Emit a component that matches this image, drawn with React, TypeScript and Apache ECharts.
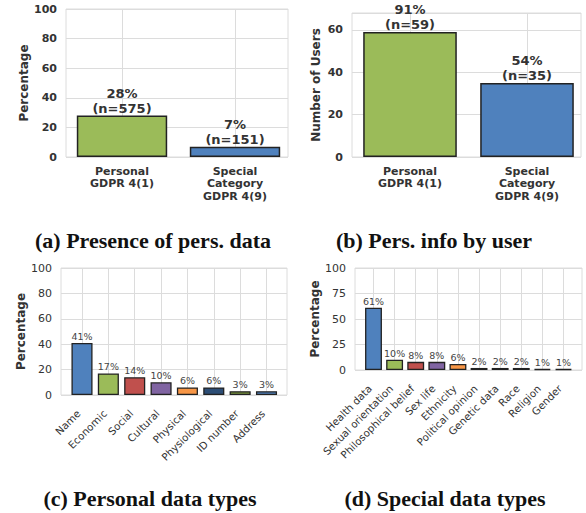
import React, { useEffect, useRef } from "react";
import * as echarts from "echarts";

const catsA = ["Personal\nGDPR 4(1)", "Special\nCategory\nGDPR 4(9)"];
const pctA = [28, 7];
const countA = [575, 151];

const catsB = ["Personal\nGDPR 4(1)", "Special\nCategory\nGDPR 4(9)"];
const usersB = [59, 35];
const pctB = [91, 54];

const catsC = ["Name", "Economic", "Social", "Cultural", "Physical", "Physiological", "ID number", "Address"];
const valsC = [41, 17, 14, 10, 6, 6, 3, 3];

const catsD = [
  "Health data",
  "Sexual orientation",
  "Philosophical belief",
  "Sex life",
  "Ethnicity",
  "Political opinion",
  "Genetic data",
  "Race",
  "Religion",
  "Gender",
];
const valsD = [61, 10, 8, 8, 6, 2, 2, 2, 1, 1];

const colorsAB = ["#9BBB59", "#4F81BD"];
const colorsC = ["#4F81BD", "#9BBB59", "#C0504D", "#8064A2", "#F79646", "#2C4D75", "#77933C", "#4F81BD"];
const colorsD = ["#4F81BD", "#9BBB59", "#C0504D", "#8064A2", "#F79646", "#2C4D75", "#77933C", "#4F81BD", "#772C2A", "#5F497A"];

const captions = [
  { text: "(a) Presence of pers. data", x: 153, y: 240 },
  { text: "(b) Pers. info by user", x: 434, y: 240 },
  { text: "(c) Personal data types", x: 150, y: 498 },
  { text: "(d) Special data types", x: 445, y: 498 },
];

const FONT = "DejaVu Sans";
const GRID_C = "#dcdcdc";
const TEXT_C = "#333";

type Panel = {
  outer: { left: number; top: number; width: number; height: number };
  inner: { left: number; width: number };
  cats: string[];
  vals: number[];
  colors: string[];
  yMax: number;
  yInt: number;
  yName: string;
  nameGap: number;
  bold: boolean;
  labelFmt: (i: number) => string;
  rotate: number;
};

export default function App() {
  const ref = useRef<HTMLDivElement>(null);
  useEffect(() => {
    if (!ref.current) return;
    const chart = echarts.init(ref.current, null, { renderer: "svg" });

    const panels: Panel[] = [
      {
        outer: { left: 66, top: 9, width: 222, height: 148 },
        inner: { left: 122, width: 113 },
        cats: catsA,
        vals: pctA,
        colors: colorsAB,
        yMax: 100,
        yInt: 20,
        yName: "Percentage",
        nameGap: 36,
        bold: true,
        labelFmt: (i) => `${pctA[i]}%\n(n=${countA[i]})`,
        rotate: 0,
      },
      {
        outer: { left: 352, top: 13, width: 229, height: 144 },
        inner: { left: 410, width: 117 },
        cats: catsB,
        vals: usersB,
        colors: colorsAB,
        yMax: 68,
        yInt: 20,
        yName: "Number of Users",
        nameGap: 30,
        bold: true,
        labelFmt: (i) => `${pctB[i]}%\n(n=${usersB[i]})`,
        rotate: 0,
      },
      {
        outer: { left: 61, top: 268, width: 226, height: 127 },
        inner: { left: 82, width: 184.5 },
        cats: catsC,
        vals: valsC,
        colors: colorsC,
        yMax: 100,
        yInt: 20,
        yName: "Percentage",
        nameGap: 34,
        bold: false,
        labelFmt: (i) => `${valsC[i]}%`,
        rotate: 45,
      },
      {
        outer: { left: 355, top: 268, width: 227, height: 102 },
        inner: { left: 373.5, width: 190 },
        cats: catsD,
        vals: valsD,
        colors: colorsD,
        yMax: 100,
        yInt: 25,
        yName: "Percentage",
        nameGap: 33,
        bold: false,
        labelFmt: (i) => `${valsD[i]}%`,
        rotate: 45,
      },
    ];

    const grid: any[] = [];
    const xAxis: any[] = [];
    const yAxis: any[] = [];
    const series: any[] = [];

    panels.forEach((p, k) => {
      const o = p.outer;
      grid.push({
        left: o.left,
        top: o.top,
        width: o.width,
        height: o.height,
        show: true,
        borderColor: GRID_C,
        borderWidth: 1,
        backgroundColor: "#fff",
        containLabel: false,
      });
      grid.push({
        left: p.inner.left,
        top: o.top,
        width: p.inner.width,
        height: o.height,
        containLabel: false,
      });
      xAxis.push({ type: "value", gridIndex: 2 * k, min: 0, max: 1, show: false });
      xAxis.push({
        type: "category",
        gridIndex: 2 * k + 1,
        data: p.cats,
        boundaryGap: false,
        axisLine: { show: false },
        axisTick: { show: false },
        splitLine: { show: true, interval: 0, lineStyle: { color: GRID_C, width: 1 } },
        axisLabel: {
          interval: 0,
          rotate: p.rotate,
          margin: p.rotate ? 13 : 8,
          padding: p.rotate ? [0, 5, 0, 0] : 0,
          fontFamily: FONT,
          fontSize: p.bold ? 11 : 10.3,
          fontWeight: p.bold ? "bold" : "normal",
          color: TEXT_C,
          lineHeight: 12.5,
        },
      });
      yAxis.push({
        type: "value",
        gridIndex: 2 * k,
        min: 0,
        max: p.yMax,
        interval: p.yInt,
        name: p.yName,
        nameLocation: "middle",
        nameGap: p.nameGap,
        nameTextStyle: { fontFamily: FONT, fontSize: 12, fontWeight: "bold", color: TEXT_C },
        axisLine: { show: false },
        axisTick: { show: false },
        splitLine: { show: true, lineStyle: { color: GRID_C, width: 1 } },
        axisLabel: {
          margin: 9,
          fontFamily: FONT,
          fontSize: 11,
          fontWeight: p.bold ? "bold" : "normal",
          color: TEXT_C,
          formatter: (v: number) => (v % p.yInt === 0 ? String(v) : ""),
        },
      });
      yAxis.push({ type: "value", gridIndex: 2 * k + 1, min: 0, max: p.yMax, show: false });
      series.push({
        type: "bar",
        xAxisIndex: 2 * k + 1,
        yAxisIndex: 2 * k + 1,
        clip: false,
        barWidth: "80%",
        data: p.vals.map((v, i) => ({ value: v, itemStyle: { color: p.colors[i] } })),
        itemStyle: { borderColor: "#222", borderWidth: p.bold ? 1.5 : 1.3 },
        label: {
          show: true,
          position: "top",
          distance: p.bold ? 0 : 1,
          fontFamily: FONT,
          fontSize: p.bold ? 13 : 9.5,
          fontWeight: p.bold ? "bold" : "normal",
          color: p.bold ? TEXT_C : "#444",
          lineHeight: p.bold ? 15 : 11,
          formatter: (params: any) => p.labelFmt(params.dataIndex),
        },
      });
    });

    chart.setOption({
      animation: false,
      backgroundColor: "#fff",
      grid,
      xAxis,
      yAxis,
      series,
      graphic: captions.map((c) => ({
        type: "text",
        x: c.x,
        y: c.y,
        style: {
          text: c.text,
          font: 'bold 22px "Liberation Serif"',
          fill: "#111",
          textAlign: "center",
          textVerticalAlign: "middle",
        },
      })),
    });
    return () => chart.dispose();
  }, []);
  return (
    <div
      ref={ref}
      style={{ position: "absolute", left: 0, top: 0, width: 586, height: 513 }}
    />
  );
}
